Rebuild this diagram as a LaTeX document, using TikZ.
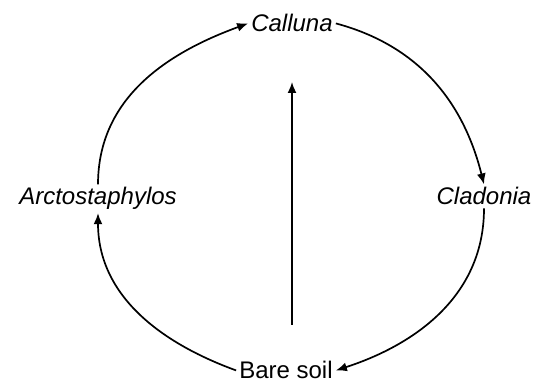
\documentclass[tikz,border=0pt]{standalone}
\usepackage{fontspec}
\setmainfont{Liberation Sans}
\usetikzlibrary{arrows.meta}

\begin{document}
\begin{tikzpicture}[x=1pt,y=1pt,
  every node/.style={font=\fontsize{24}{28}\selectfont, inner sep=3pt, anchor=base},
  species/.style={font=\fontsize{24}{28}\selectfont\itshape},
  succ/.style={line width=1.7pt, -{Latex[length=11pt,width=9pt]}}]
  \useasboundingbox (0,0) rectangle (535,385);
  \node[species] (calluna) at (292,353) {Calluna};
  \node[species] (arcto) at (98,180) {Arctostaphylos};
  \node[species] (cladonia) at (484,180) {Cladonia};
  \node (soil) at (286,6) {Bare soil};
  \coordinate (up0) at (292,60);
  \coordinate (up1) at (292,303);
  % succession cycle
  \foreach \a/\b/\o/\i in {arcto.north/calluna.west/90/200,
      calluna.east/cladonia.north/-15/104,
      cladonia.south/soil.east/-90/18,
      soil.west/arcto.south/160/-90}
    \draw[succ] (\a) to[out=\o,in=\i] (\b);
  \draw[succ] (up0) -- (up1);
\end{tikzpicture}
\end{document}
